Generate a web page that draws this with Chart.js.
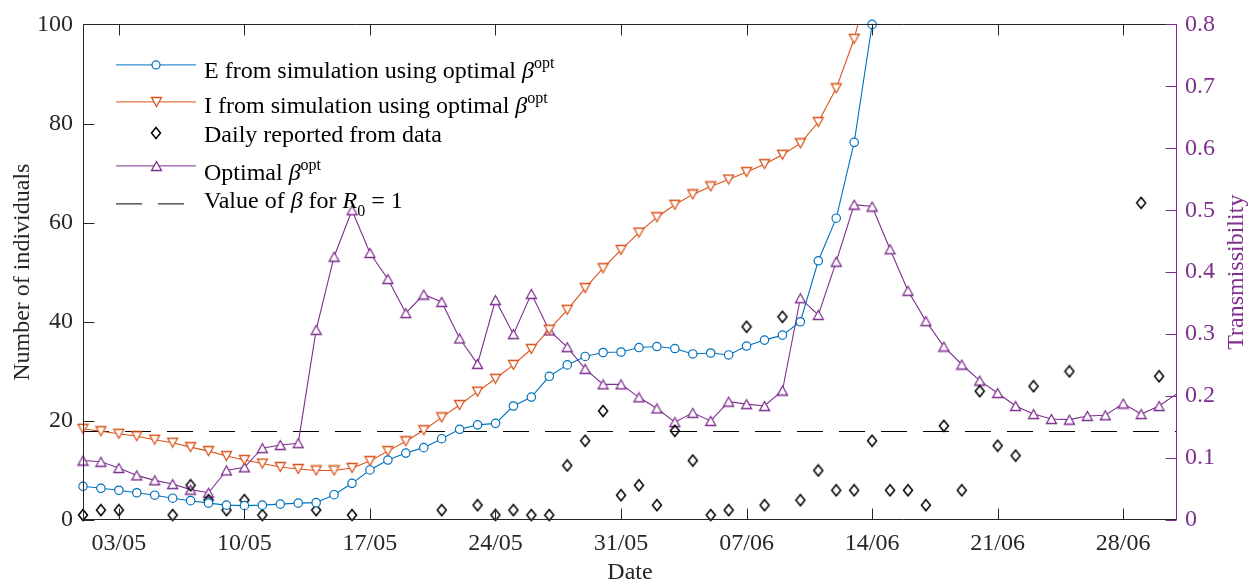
<!DOCTYPE html>
<html>
<head>
<meta charset="utf-8">
<script src="https://cdn.jsdelivr.net/npm/chart.js@4"></script>
<style>
  html, body { margin: 0; padding: 0; background: #fff; }
</style>
</head>
<body>
<canvas id="chart" width="1254" height="585"></canvas>
<script>
// x values are days counted from 01/05
const xMax = 61
const tickDays = [2, 9, 16, 23, 30, 37, 44, 51, 58]
const tickLabels = ['03/05', '10/05', '17/05', '24/05', '31/05', '07/06', '14/06', '21/06', '28/06']

// E from simulation (days 0..44)
const exposed = [6.8, 6.4, 6.0, 5.5, 5.0, 4.4, 3.9, 3.4, 3.0, 2.9, 3.0, 3.2, 3.4, 3.5, 5.1,
  7.4, 10.1, 12.1, 13.5, 14.6, 16.4, 18.3, 19.2, 19.5, 23.0, 24.8, 29.0, 31.3, 33.0, 33.8,
  33.9, 34.8, 35.0, 34.6, 33.5, 33.7, 33.3, 35.1, 36.3, 37.3, 40.0, 52.3, 60.9, 76.2, 100]

// I from simulation (days 0..44)
const infected = [18.4, 17.9, 17.4, 16.9, 16.2, 15.6, 14.7, 13.9, 12.9, 12.1, 11.4, 10.7, 10.3, 10.0, 10.0,
  10.5, 11.9, 13.9, 15.9, 18.1, 20.7, 23.2, 25.9, 28.5, 31.3, 34.5, 38.4, 42.4, 46.8, 50.8,
  54.5, 58.0, 61.1, 63.6, 65.7, 67.3, 68.7, 70.2, 71.8, 73.7, 76.0, 80.3, 87.1, 97.1, 111]

// daily reported cases
const reportedDays = [0, 1, 2, 5, 6, 7, 8, 9, 10, 13, 15, 20, 22, 23, 24, 25, 26, 27, 28, 29, 30, 31,
  32, 33, 34, 35, 36, 37, 38, 39, 40, 41, 42, 43, 44, 45, 46, 47, 48, 49, 50, 51, 52, 53, 55, 59, 60]
const reportedCounts = [1, 2, 2, 1, 7, 4, 2, 4, 1, 2, 1, 2, 3, 1, 2, 1, 1, 11, 16, 22, 5, 7,
  3, 18, 12, 1, 2, 39, 3, 41, 4, 10, 6, 6, 16, 6, 6, 3, 19, 6, 26, 15, 13, 27, 30, 64, 29]

// optimal beta (days 0..61), right axis
const betaOpt = [0.096, 0.094, 0.084, 0.072, 0.064, 0.058, 0.049, 0.044, 0.080, 0.085,
  0.116, 0.121, 0.124, 0.307, 0.425, 0.500, 0.431, 0.389, 0.334, 0.364,
  0.352, 0.293, 0.252, 0.355, 0.300, 0.365, 0.306, 0.279, 0.244, 0.219,
  0.219, 0.198, 0.180, 0.158, 0.173, 0.160, 0.191, 0.187, 0.184, 0.209,
  0.358, 0.331, 0.417, 0.509, 0.506, 0.437, 0.370, 0.321, 0.280, 0.251,
  0.225, 0.205, 0.184, 0.171, 0.163, 0.162, 0.168, 0.169, 0.188, 0.171,
  0.184, 0.204]

// beta for R0 = 1
const betaR0 = 1 / 7

const legendLabels = [
  [['E from simulation using optimal ', 'n'], ['β', 'i'], ['opt', 'sup']],
  [['I from simulation using optimal ', 'n'], ['β', 'i'], ['opt', 'sup']],
  [['Daily reported from data', 'n']],
  [['Optimal ', 'n'], ['β', 'i'], ['opt', 'sup']],
  [['Value of ', 'n'], ['β', 'i'], [' for ', 'n'], ['R', 'i'], ['0', 'sub'], [' = 1', 'n']]
]

const blue = '#0072BD'
const orange = '#D95319'
const purple = '#7E2F8E'
const axisGray = '#262626'
const serif = '"Liberation Serif", "Times New Roman", serif'

function makeMarker (w, h, color, fill, lw, path) {
  const c = document.createElement('canvas')
  c.width = w + 3
  c.height = h + 3
  const g = c.getContext('2d')
  g.lineWidth = lw
  g.strokeStyle = color
  g.fillStyle = fill
  g.beginPath()
  path(g, 1.5, 1.5, w, h)
  g.closePath()
  if (fill) g.fill()
  g.stroke()
  return c
}

const triUp = makeMarker(10, 9, purple, '#fff', 1.3, (g, x, y, w, h) => {
  g.moveTo(x + w / 2, y); g.lineTo(x + w, y + h); g.lineTo(x, y + h)
})
const triDown = makeMarker(10, 9, orange, '#fff', 1.3, (g, x, y, w, h) => {
  g.moveTo(x, y); g.lineTo(x + w, y); g.lineTo(x + w / 2, y + h)
})
const diamond = makeMarker(9, 11, '#000', null, 1.5, (g, x, y, w, h) => {
  g.moveTo(x + w / 2, y); g.lineTo(x + w, y + h / 2); g.lineTo(x + w / 2, y + h); g.lineTo(x, y + h / 2)
})

function drawRich (ctx, x, y, parts) {
  ctx.textBaseline = 'alphabetic'
  ctx.textAlign = 'left'
  for (const [text, kind] of parts) {
    let size = 24
    let dy = 0
    let style = ''
    if (kind === 'i') style = 'italic '
    if (kind === 'sup') { size = 16; dy = -10 }
    if (kind === 'sub') { size = 16; dy = 8 }
    ctx.font = style + size + 'px ' + serif
    ctx.fillText(text, x, y + dy)
    x += ctx.measureText(text).width
  }
}

const legendPlugin = {
  id: 'matlabLegend',
  afterDatasetsDraw (chart) {
    const { ctx, chartArea: a } = chart
    const ds = chart.data.datasets
    const x0 = a.left + 33
    const x1 = x0 + 80
    const xm = x0 + 40
    const xt = a.left + 121
    const rows = [
      { d: 0, y: 40, base: 54, line: true },
      { d: 1, y: 77, base: 89, line: true },
      { d: 2, y: 108, base: 118, line: false },
      { d: 3, y: 141, base: 156, line: true },
      { d: 4, y: 179, base: 184, line: true }
    ]
    ctx.save()
    rows.forEach((r, i) => {
      const set = ds[r.d]
      const y = a.top + r.y
      if (r.line) {
        ctx.beginPath()
        ctx.lineWidth = 1
        ctx.strokeStyle = set.borderColor
        ctx.setLineDash(set.borderDash || [])
        ctx.moveTo(x0, y + 0.5)
        ctx.lineTo(x1, y + 0.5)
        ctx.stroke()
        ctx.setLineDash([])
      }
      const ps = set.pointStyle
      if (ps && typeof ps === 'object') {
        ctx.drawImage(ps, Math.round(xm - ps.width / 2), Math.round(y + 0.5 - ps.height / 2))
      } else if (ps === 'circle') {
        ctx.beginPath()
        ctx.arc(xm, y + 0.5, 4, 0, Math.PI * 2)
        ctx.fillStyle = '#fff'
        ctx.fill()
        ctx.lineWidth = 1.2
        ctx.strokeStyle = set.borderColor
        ctx.stroke()
      }
      ctx.fillStyle = '#000'
      drawRich(ctx, xt, a.top + r.base, legendLabels[i])
    })
    ctx.restore()
  }
}

const framePlugin = {
  id: 'frame',
  afterDraw (chart) {
    const { ctx, chartArea: a, scales } = chart
    const tl = 11
    const L = Math.round(a.left) + 0.5
    const R = Math.round(a.right) - 0.5
    const T = Math.round(a.top) + 0.5
    const B = Math.round(a.bottom) - 0.5
    ctx.save()
    ctx.lineWidth = 1
    ctx.strokeStyle = axisGray
    ctx.beginPath()
    ctx.moveTo(R, T); ctx.lineTo(L, T); ctx.lineTo(L, B); ctx.lineTo(R, B)
    scales.x.ticks.forEach(t => {
      const px = Math.round(scales.x.getPixelForValue(t.value)) + 0.5
      ctx.moveTo(px, B); ctx.lineTo(px, B - tl)
      ctx.moveTo(px, T); ctx.lineTo(px, T + tl)
    })
    scales.y.ticks.forEach(t => {
      const py = Math.round(scales.y.getPixelForValue(t.value)) + 0.5
      ctx.moveTo(L, py); ctx.lineTo(L + tl, py)
    })
    ctx.stroke()
    ctx.strokeStyle = purple
    ctx.beginPath()
    ctx.moveTo(R, T - 0.5); ctx.lineTo(R, B + 0.5)
    scales.y1.ticks.forEach(t => {
      const py = Math.round(scales.y1.getPixelForValue(t.value)) + 0.5
      ctx.moveTo(R, py); ctx.lineTo(R - tl, py)
    })
    ctx.stroke()
    ctx.fillStyle = purple
    ctx.font = '24px ' + serif
    ctx.textAlign = 'center'
    ctx.textBaseline = 'middle'
    ctx.translate(1237, (a.top + a.bottom) / 2)
    ctx.rotate(-Math.PI / 2)
    ctx.fillText('Transmissibility', 0, 0)
    ctx.restore()
  }
}

const tickFont = { family: serif, size: 24 }

const config = {
  type: 'line',
  data: {
    datasets: [
      {
        label: 'E',
        yAxisID: 'y',
        data: exposed.map((y, x) => ({ x, y })),
        borderColor: blue,
        borderWidth: 1.1,
        pointStyle: 'circle',
        pointRadius: 4.2,
        pointBorderWidth: 1.2,
        pointBorderColor: blue,
        pointBackgroundColor: '#fff',
        tension: 0,
        clip: 8
      },
      {
        label: 'I',
        yAxisID: 'y',
        data: infected.map((y, x) => ({ x, y })),
        borderColor: orange,
        borderWidth: 1.1,
        pointStyle: triDown,
        pointRadius: 5,
        tension: 0,
        clip: { left: 8, top: 0, right: 8, bottom: 8 }
      },
      {
        label: 'Daily reported',
        yAxisID: 'y',
        data: reportedDays.map((x, i) => ({ x, y: reportedCounts[i] })),
        showLine: false,
        borderColor: '#000',
        pointStyle: diamond,
        pointRadius: 5,
        clip: 8
      },
      {
        label: 'beta',
        yAxisID: 'y1',
        data: betaOpt.map((y, x) => ({ x, y })),
        borderColor: purple,
        borderWidth: 1.1,
        pointStyle: triUp,
        pointRadius: ctx => (ctx.raw && ctx.raw.x >= xMax ? 0 : 5),
        tension: 0,
        clip: { left: 8, top: 8, right: 0, bottom: 8 }
      },
      {
        label: 'R0',
        yAxisID: 'y1',
        data: [{ x: 0, y: betaR0 }, { x: xMax, y: betaR0 }],
        borderColor: '#000',
        borderWidth: 1,
        borderDash: [26, 16],
        pointRadius: 0
      }
    ]
  },
  options: {
    responsive: false,
    animation: false,
    layout: { padding: { top: 20, left: 0, right: 0, bottom: 0 } },
    plugins: {
      legend: { display: false },
      tooltip: { enabled: false }
    },
    scales: {
      x: {
        type: 'linear',
        position: 'bottom',
        min: 0,
        max: xMax,
        afterBuildTicks: scale => { scale.ticks = tickDays.map(value => ({ value })) },
        afterFit: scale => { scale.height = 65 },
        grid: { display: false, drawTicks: false },
        border: { display: false },
        ticks: {
          autoSkip: false,
          maxRotation: 0,
          padding: 9,
          color: axisGray,
          font: tickFont,
          callback: value => tickLabels[tickDays.indexOf(value)]
        },
        title: {
          display: true,
          text: 'Date',
          color: axisGray,
          font: { family: serif, size: 24, lineHeight: 1 },
          padding: { top: 0, bottom: 0 }
        }
      },
      y: {
        position: 'left',
        min: 0,
        max: 100,
        afterFit: scale => { scale.width = 83 },
        grid: { display: false, drawTicks: false },
        border: { display: false },
        ticks: { stepSize: 20, padding: 10, color: axisGray, font: tickFont },
        title: {
          display: true,
          text: 'Number of individuals',
          color: axisGray,
          font: { family: serif, size: 24 },
          padding: { top: 8, bottom: 0 }
        }
      },
      y1: {
        position: 'right',
        min: 0,
        max: 0.8,
        afterFit: scale => { scale.width = 77 },
        grid: { display: false, drawTicks: false },
        border: { display: false },
        ticks: {
          stepSize: 0.1,
          padding: 8,
          color: purple,
          font: tickFont,
          callback: v => (v === 0 ? '0' : v.toFixed(1))
        }
      }
    }
  },
  plugins: [legendPlugin, framePlugin]
}

new Chart(document.getElementById('chart'), config)
</script>
</body>
</html>
